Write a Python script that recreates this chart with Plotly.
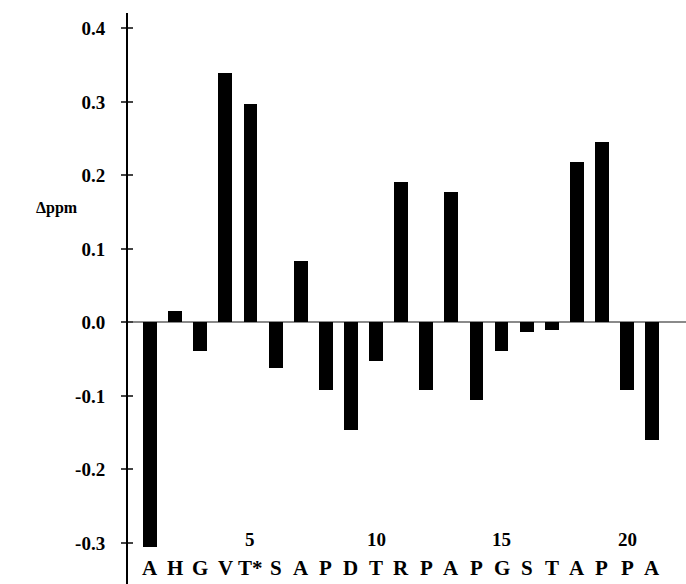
import plotly.graph_objects as go

residues = ["A", "H", "G", "V", "T*", "S", "A", "P", "D", "T", "R",
            "P", "A", "P", "G", "S", "T", "A", "P", "P", "A"]
delta_ppm = [-0.305, 0.016, -0.039, 0.340, 0.297, -0.062, 0.083, -0.092,
             -0.146, -0.052, 0.191, -0.092, 0.177, -0.106, -0.039, -0.013,
             -0.011, 0.218, 0.245, -0.092, -0.160]
number_marks = [5, 10, 15, 20]
y_ticks = [0.4, 0.3, 0.2, 0.1, 0.0, -0.1, -0.2, -0.3]
y_tick_text = ["0.4", "0.3", "0.2", "0.1", "0.0", "-0.1", "-0.2", "-0.3"]

positions = list(range(1, len(residues) + 1))
serif = "Liberation Serif"
W, H = 686, 584
ML, MT = 128, 13
PW, PH = W - ML, H - MT

fig = go.Figure()
fig.add_trace(go.Bar(x=positions, y=delta_ppm, width=0.55,
                     marker=dict(color="black", line=dict(width=0)),
                     showlegend=False))

yr = [-0.356, 0.421]
fig.update_layout(
    width=W, height=H,
    margin=dict(l=ML, r=0, t=MT, b=0),
    paper_bgcolor="white", plot_bgcolor="white",
    bargap=0,
    xaxis=dict(range=[0.12, 22.35], showline=False, showgrid=False,
               zeroline=False, showticklabels=False, ticks=""),
    yaxis=dict(range=yr, showline=True, linecolor="black", linewidth=2,
               showgrid=False, zeroline=True, zerolinecolor="#8a8a8a",
               zerolinewidth=1.5, tickvals=y_ticks, ticktext=y_tick_text,
               ticks="outside", ticklen=5, tickwidth=1.5, tickcolor="#444",
               ticklabelstandoff=12,
               tickfont=dict(family=serif, size=19, color="black", weight="bold")),
    yaxis2=dict(range=yr, overlaying="y", showline=False, showgrid=False,
                zeroline=False, tickvals=y_ticks, showticklabels=False,
                ticks="inside", ticklen=5, tickwidth=1.5, tickcolor="#444"),
)
fig.add_trace(go.Scatter(x=[positions[0]], y=[0], yaxis="y2", mode="markers",
                         marker=dict(opacity=0), showlegend=False,
                         hoverinfo="skip"))

def py(pix):
    return (H - pix) / PH

for p, r in zip(positions, residues):
    fig.add_annotation(x=p, y=py(568), xref="x", yref="paper", text=r,
                       showarrow=False, yanchor="middle", xanchor="center",
                       font=dict(family=serif, size=21, color="black", weight="bold"))
for n in number_marks:
    fig.add_annotation(x=n, y=py(539), xref="x", yref="paper", text=str(n),
                       showarrow=False, yanchor="middle", xanchor="center",
                       font=dict(family=serif, size=19, color="black", weight="bold"))

fig.add_annotation(x=(57 - ML) / PW, y=py(208), xref="paper", yref="paper",
                   text="Δppm", showarrow=False, xanchor="center", yanchor="middle",
                   font=dict(family=serif, size=16, color="black", weight="bold"))

fig.write_html("out.html", config={"displayModeBar": False},
               post_script="document.body.style.margin='0';")
